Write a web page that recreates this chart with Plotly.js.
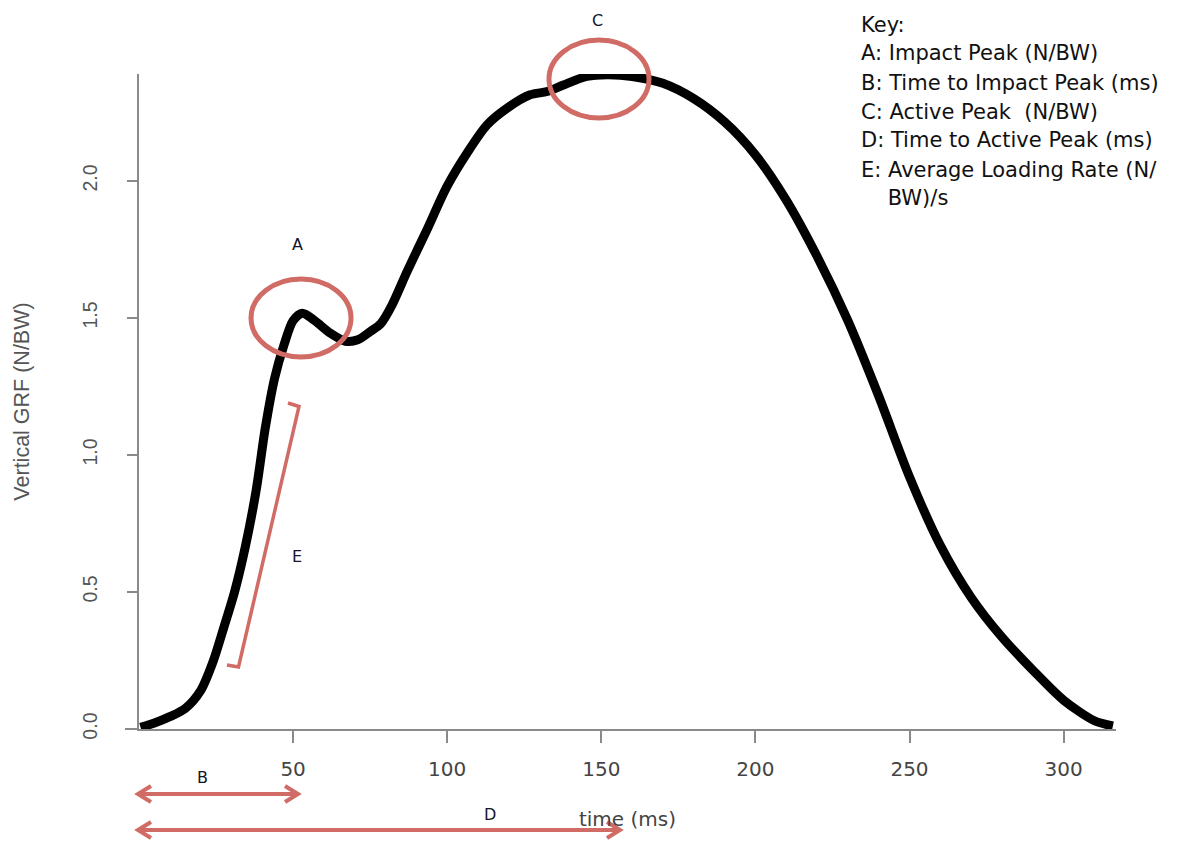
<!DOCTYPE html>
<html>
<head>
<meta charset="utf-8">
<script src="https://cdn.plot.ly/plotly-3.0.1.min.js"></script>
<style>html,body{margin:0;padding:0;background:#fff;}#chart{width:1181px;height:846px;}</style>
</head>
<body>
<div id="chart"></div>
<script>
// ---- data ----
const timeMs = [0.5, 5, 10, 15, 20, 24, 27.5, 31, 34.5, 38, 41, 44, 47, 50, 53, 57, 62, 67, 71, 75, 78.5, 82, 87, 93.4, 99.9, 106.4, 112.9, 119.4, 126.9, 132.4, 137.7, 145.3, 152, 160, 170, 180, 190, 200, 210, 220, 230, 240, 250, 260, 270, 280, 290, 300, 310, 316];
const grf    = [0.006, 0.022, 0.045, 0.075, 0.14, 0.245, 0.37, 0.50, 0.665, 0.87, 1.10, 1.28, 1.40, 1.49, 1.517, 1.49, 1.445, 1.415, 1.42, 1.45, 1.48, 1.545, 1.67, 1.821, 1.979, 2.101, 2.204, 2.265, 2.314, 2.326, 2.350, 2.381, 2.387, 2.381, 2.356, 2.30, 2.215, 2.095, 1.93, 1.725, 1.49, 1.215, 0.92, 0.67, 0.48, 0.335, 0.215, 0.105, 0.03, 0.011];
const xTicks = [50, 100, 150, 200, 250, 300];
const yTicks = [0, 0.5, 1.0, 1.5, 2.0];
const yTickText = ['0.0', '0.5', '1.0', '1.5', '2.0'];
const keyLines = ['Key:', 'A: Impact Peak (N/BW)', 'B: Time to Impact Peak (ms)', 'C: Active Peak  (N/BW)', 'D: Time to Active Peak (ms)', 'E: Average Loading Rate (N/', '    BW)/s'];
const markLabels = ['A', 'C', 'E', 'B', 'D'];

// ---- layout geometry (pixels) ----
const L = 139, R = 1116, T = 74, B = 729;
const W = R - L, H = B - T;
const px = v => (v - L) / W;
const py = v => (B - v) / H;
const RED = '#d06b66';
const HFONT = 'DejaVu Sans, Liberation Sans, Arial, sans-serif';
const VFONT = 'Liberation Sans, Arial, sans-serif';

function pathPx(points) {
  return points.map((p, i) => (i ? 'L' : 'M') + px(p[0]).toFixed(5) + ',' + py(p[1]).toFixed(5)).join(' ');
}

const shapes = [];
// extension of x-axis line to the left of y axis
shapes.push({type: 'line', xref: 'paper', yref: 'paper', x0: px(125), x1: px(L), y0: 0, y1: 0,
  line: {color: '#8a8a8a', width: 2}});
// ellipses A and C
shapes.push({type: 'circle', xref: 'paper', yref: 'paper', x0: px(251), x1: px(351), y0: py(357), y1: py(279),
  line: {color: RED, width: 5}});
shapes.push({type: 'circle', xref: 'paper', yref: 'paper', x0: px(549), x1: px(649), y0: py(118), y1: py(40),
  line: {color: RED, width: 5}});
// bracket E
shapes.push({type: 'path', xref: 'paper', yref: 'paper',
  path: pathPx([[288, 403], [299, 406.5], [238.5, 667], [227, 665]]),
  line: {color: RED, width: 3.5}});
// double arrows B and D
function dblArrow(x0, x1, y) {
  shapes.push({type: 'line', xref: 'paper', yref: 'paper', x0: px(x0 + 2), x1: px(x1 - 2), y0: py(y), y1: py(y),
    line: {color: RED, width: 4}});
  shapes.push({type: 'path', xref: 'paper', yref: 'paper', path: pathPx([[x0 + 13, y - 8], [x0, y], [x0 + 13, y + 8]]),
    line: {color: RED, width: 4}});
  shapes.push({type: 'path', xref: 'paper', yref: 'paper', path: pathPx([[x1 - 13, y - 8], [x1, y], [x1 - 13, y + 8]]),
    line: {color: RED, width: 4}});
}
dblArrow(138, 298, 794);
dblArrow(138, 620, 830);

const annotations = [];
const keyY = [25, 53, 83, 112, 140, 170, 198];
keyLines.forEach((t, i) => annotations.push({
  xref: 'paper', yref: 'paper', x: px(859), y: py(keyY[i]), xanchor: 'left', yanchor: 'middle',
  text: t.replace(/^ +/, m => '&nbsp;'.repeat(m.length)),
  showarrow: false, font: {family: HFONT, size: 21, color: '#111'}
}));
const markPos = [[297, 245], [597, 20], [297, 556], [202, 777], [490, 814]];
markLabels.forEach((t, i) => annotations.push({
  xref: 'paper', yref: 'paper', x: px(markPos[i][0]), y: py(markPos[i][1]), xanchor: 'center', yanchor: 'middle',
  text: t, showarrow: false, font: {family: HFONT, size: 16, color: '#14142a'}
}));

const trace = {
  x: timeMs, y: grf, type: 'scatter', mode: 'lines',
  line: {color: '#000', width: 9, shape: 'spline', smoothing: 0.8},
  hoverinfo: 'x+y'
};

const layout = {
  width: 1181, height: 846,
  margin: {l: L, r: 1181 - R, t: T, b: 846 - B, pad: 0},
  paper_bgcolor: '#fff', plot_bgcolor: '#fff',
  showlegend: false,
  xaxis: {
    range: [0, 317], tickvals: xTicks, ticks: 'outside', ticklen: 12, tickwidth: 2, tickcolor: '#8a8a8a',
    showline: true, linecolor: '#8a8a8a', linewidth: 2, showgrid: false, zeroline: false,
    tickfont: {family: HFONT, size: 20, color: '#444'}, ticklabelstandoff: 9,
    title: {text: 'time (ms)', font: {family: HFONT, size: 20, color: '#444'}, standoff: 32},
    automargin: false, fixedrange: true
  },
  yaxis: {
    range: [0, 2.39], tickvals: yTicks, ticktext: yTickText, tickangle: -90,
    ticks: 'outside', ticklen: 10, tickwidth: 2, tickcolor: '#8a8a8a',
    showline: true, linecolor: '#8a8a8a', linewidth: 2, showgrid: false, zeroline: false,
    tickfont: {family: VFONT, size: 19.5, color: '#555'}, ticklabelstandoff: 22,
    title: {text: 'Vertical GRF (N/BW)', font: {family: VFONT, size: 21.5, color: '#555'}, standoff: 44},
    automargin: false, fixedrange: true
  },
  shapes: shapes,
  annotations: annotations
};

Plotly.newPlot('chart', [trace], layout, {displayModeBar: false, staticPlot: true});
</script>
</body>
</html>
